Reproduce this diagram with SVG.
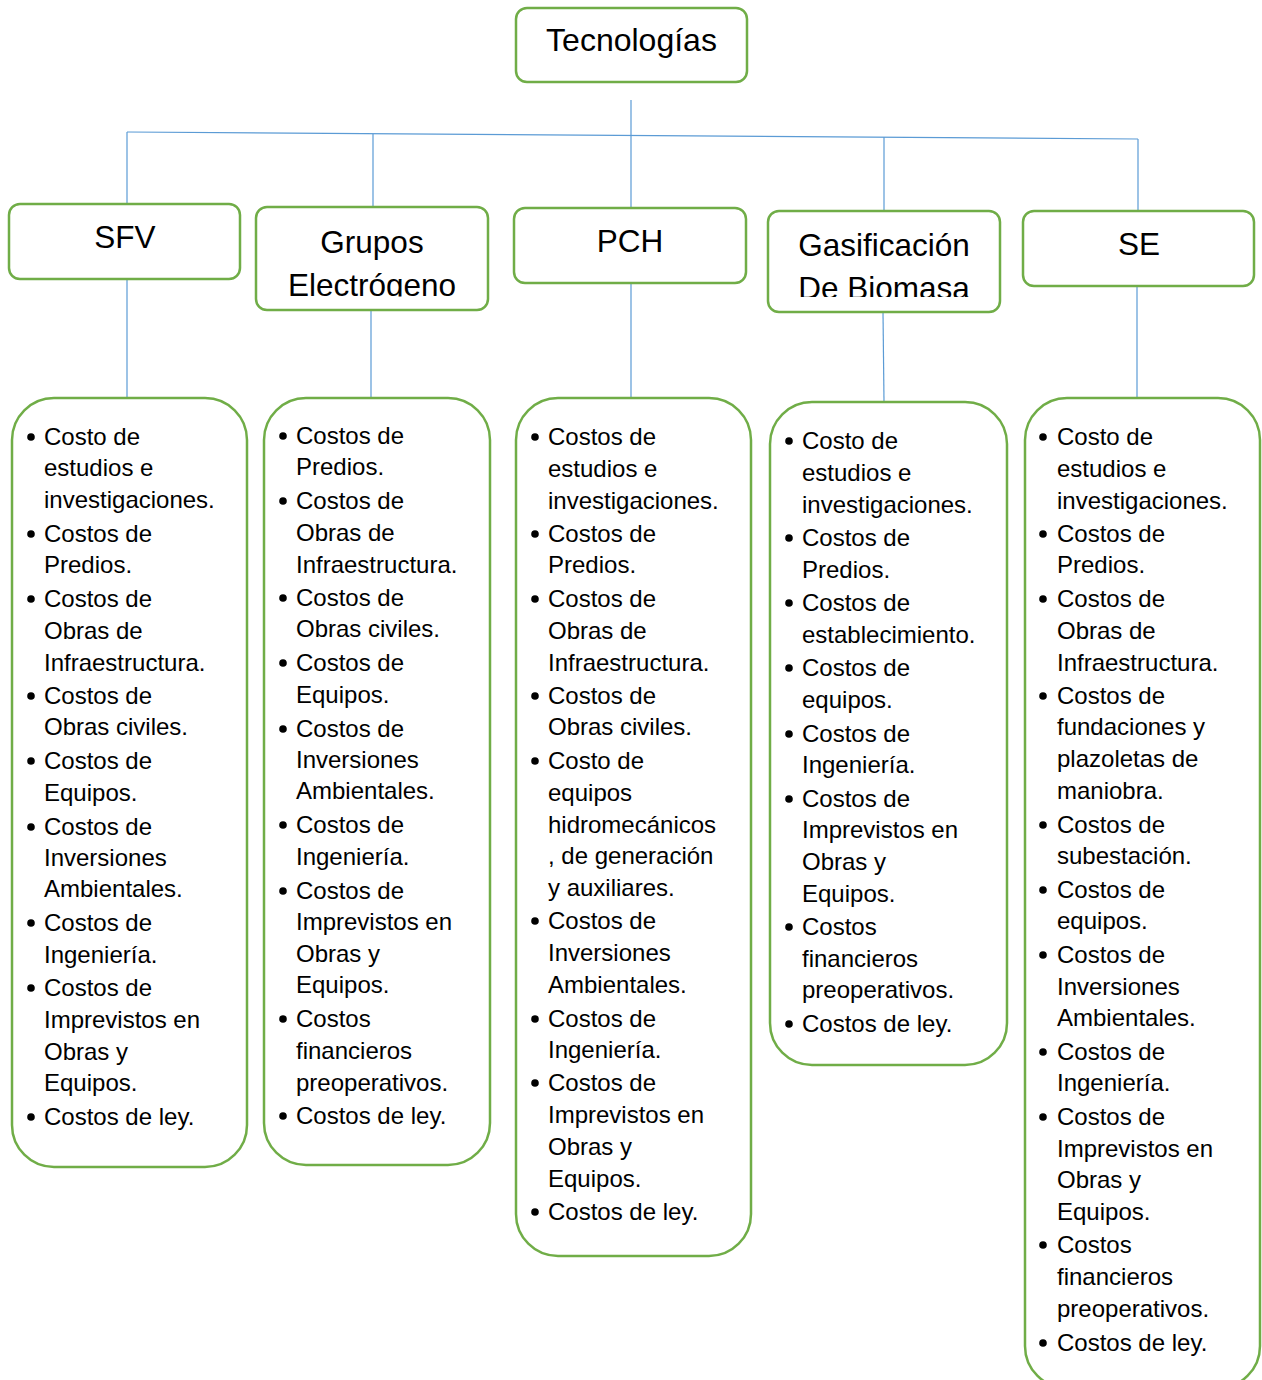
<svg xmlns="http://www.w3.org/2000/svg" width="1262" height="1380" viewBox="0 0 1262 1380">
<style>
.box{fill:#fff;stroke:#70AD47;stroke-width:2.5}
.hd{font-family:"Liberation Sans",Arial,sans-serif;font-size:31.5px;fill:#000;text-anchor:middle}
.li{font-family:"Liberation Sans",Arial,sans-serif;font-size:24px;fill:#000}
.bl{fill:#000}
.cn{stroke:#5B9BD5;stroke-width:1.2;fill:none}
</style>
<defs>
<clipPath id="cg"><rect x="256" y="207" width="233" height="89.5"/></clipPath>
<clipPath id="cb"><rect x="768" y="211" width="233" height="86"/></clipPath>
</defs>
<rect width="1262" height="1380" fill="#fff"/>
<g id="connectors">
<line class="cn" x1="631" y1="100" x2="631" y2="208"/>
<line class="cn" x1="127" y1="132" x2="1138" y2="139"/>
<line class="cn" x1="127" y1="132" x2="127" y2="204"/>
<line class="cn" x1="373" y1="134" x2="373" y2="207"/>
<line class="cn" x1="884" y1="137" x2="884" y2="211"/>
<line class="cn" x1="1138" y1="139" x2="1138" y2="212"/>
<line class="cn" x1="127" y1="279" x2="127" y2="398"/>
<line class="cn" x1="371" y1="310" x2="371" y2="398"/>
<line class="cn" x1="631" y1="283" x2="631" y2="398"/>
<line class="cn" x1="883" y1="312" x2="884" y2="402"/>
<line class="cn" x1="1137" y1="286" x2="1137" y2="398"/>
</g>
<g id="root">
<rect class="box" x="516" y="8" width="231" height="74" rx="11"/>
<text class="hd" x="631.5" y="51" style="font-size:32px">Tecnologías</text>
</g>
<g id="sfv">
<rect class="box" x="9" y="204" width="231" height="75" rx="11"/>
<text class="hd" x="125" y="248">SFV</text>
</g>
<g id="grupos">
<rect class="box" x="256" y="207" width="232" height="103" rx="11"/>
<g clip-path="url(#cg)">
<text class="hd" x="372" y="253">Grupos</text>
<text class="hd" x="372" y="295.5">Electrógeno</text>
</g>
</g>
<g id="pch">
<rect class="box" x="514" y="208" width="232" height="75" rx="11"/>
<text class="hd" x="630" y="252">PCH</text>
</g>
<g id="gasificacion">
<rect class="box" x="768" y="211" width="232" height="101" rx="11"/>
<g clip-path="url(#cb)">
<text class="hd" x="884" y="256">Gasificación</text>
<text class="hd" x="884" y="299">De Biomasa</text>
</g>
</g>
<g id="se">
<rect class="box" x="1023" y="211" width="231" height="75" rx="11"/>
<text class="hd" x="1139" y="255">SE</text>
</g>
<g id="list-sfv">
<rect class="box" x="12" y="398" width="235" height="769" rx="42"/>
<g class="bl">
<circle cx="31" cy="437" r="3.8"/><circle cx="31" cy="534" r="3.8"/><circle cx="31" cy="599" r="3.8"/><circle cx="31" cy="696" r="3.8"/><circle cx="31" cy="761" r="3.8"/><circle cx="31" cy="827" r="3.8"/><circle cx="31" cy="923" r="3.8"/><circle cx="31" cy="988" r="3.8"/><circle cx="31" cy="1117" r="3.8"/>
</g>
<text class="li">
<tspan x="44" y="445">Costo de</tspan><tspan x="44" y="476">estudios e</tspan><tspan x="44" y="508">investigaciones.</tspan>
<tspan x="44" y="542">Costos de</tspan><tspan x="44" y="573">Predios.</tspan>
<tspan x="44" y="607">Costos de</tspan><tspan x="44" y="639">Obras de</tspan><tspan x="44" y="671">Infraestructura.</tspan>
<tspan x="44" y="704">Costos de</tspan><tspan x="44" y="735">Obras civiles.</tspan>
<tspan x="44" y="769">Costos de</tspan><tspan x="44" y="801">Equipos.</tspan>
<tspan x="44" y="835">Costos de</tspan><tspan x="44" y="866">Inversiones</tspan><tspan x="44" y="897">Ambientales.</tspan>
<tspan x="44" y="931">Costos de</tspan><tspan x="44" y="963">Ingeniería.</tspan>
<tspan x="44" y="996">Costos de</tspan><tspan x="44" y="1028">Imprevistos en</tspan><tspan x="44" y="1060">Obras y</tspan><tspan x="44" y="1091">Equipos.</tspan>
<tspan x="44" y="1125">Costos de ley.</tspan>
</text>
</g>
<g id="list-grupos">
<rect class="box" x="264" y="398" width="226" height="767" rx="42"/>
<g class="bl">
<circle cx="283" cy="436" r="3.8"/><circle cx="283" cy="501" r="3.8"/><circle cx="283" cy="598" r="3.8"/><circle cx="283" cy="663" r="3.8"/><circle cx="283" cy="729" r="3.8"/><circle cx="283" cy="825" r="3.8"/><circle cx="283" cy="891" r="3.8"/><circle cx="283" cy="1019" r="3.8"/><circle cx="283" cy="1116" r="3.8"/>
</g>
<text class="li">
<tspan x="296" y="444">Costos de</tspan><tspan x="296" y="475">Predios.</tspan>
<tspan x="296" y="509">Costos de</tspan><tspan x="296" y="541">Obras de</tspan><tspan x="296" y="573">Infraestructura.</tspan>
<tspan x="296" y="606">Costos de</tspan><tspan x="296" y="637">Obras civiles.</tspan>
<tspan x="296" y="671">Costos de</tspan><tspan x="296" y="703">Equipos.</tspan>
<tspan x="296" y="737">Costos de</tspan><tspan x="296" y="768">Inversiones</tspan><tspan x="296" y="799">Ambientales.</tspan>
<tspan x="296" y="833">Costos de</tspan><tspan x="296" y="865">Ingeniería.</tspan>
<tspan x="296" y="899">Costos de</tspan><tspan x="296" y="930">Imprevistos en</tspan><tspan x="296" y="962">Obras y</tspan><tspan x="296" y="993">Equipos.</tspan>
<tspan x="296" y="1027">Costos</tspan><tspan x="296" y="1059">financieros</tspan><tspan x="296" y="1091">preoperativos.</tspan>
<tspan x="296" y="1124">Costos de ley.</tspan>
</text>
</g>
<g id="list-pch">
<rect class="box" x="516" y="398" width="235" height="858" rx="42"/>
<g class="bl">
<circle cx="535" cy="437" r="3.8"/><circle cx="535" cy="534" r="3.8"/><circle cx="535" cy="599" r="3.8"/><circle cx="535" cy="696" r="3.8"/><circle cx="535" cy="761" r="3.8"/><circle cx="535" cy="921" r="3.8"/><circle cx="535" cy="1019" r="3.8"/><circle cx="535" cy="1083" r="3.8"/><circle cx="535" cy="1212" r="3.8"/>
</g>
<text class="li">
<tspan x="548" y="445">Costos de</tspan><tspan x="548" y="477">estudios e</tspan><tspan x="548" y="509">investigaciones.</tspan>
<tspan x="548" y="542">Costos de</tspan><tspan x="548" y="573">Predios.</tspan>
<tspan x="548" y="607">Costos de</tspan><tspan x="548" y="639">Obras de</tspan><tspan x="548" y="671">Infraestructura.</tspan>
<tspan x="548" y="704">Costos de</tspan><tspan x="548" y="735">Obras civiles.</tspan>
<tspan x="548" y="769">Costo de</tspan><tspan x="548" y="801">equipos</tspan><tspan x="548" y="833">hidromecánicos</tspan><tspan x="548" y="864">, de generación</tspan><tspan x="548" y="896">y auxiliares.</tspan>
<tspan x="548" y="929">Costos de</tspan><tspan x="548" y="961">Inversiones</tspan><tspan x="548" y="993">Ambientales.</tspan>
<tspan x="548" y="1027">Costos de</tspan><tspan x="548" y="1058">Ingeniería.</tspan>
<tspan x="548" y="1091">Costos de</tspan><tspan x="548" y="1123">Imprevistos en</tspan><tspan x="548" y="1155">Obras y</tspan><tspan x="548" y="1187">Equipos.</tspan>
<tspan x="548" y="1220">Costos de ley.</tspan>
</text>
</g>
<g id="list-gasificacion">
<rect class="box" x="770" y="402" width="237" height="663" rx="42"/>
<g class="bl">
<circle cx="789" cy="441" r="3.8"/><circle cx="789" cy="538" r="3.8"/><circle cx="789" cy="603" r="3.8"/><circle cx="789" cy="668" r="3.8"/><circle cx="789" cy="734" r="3.8"/><circle cx="789" cy="799" r="3.8"/><circle cx="789" cy="927" r="3.8"/><circle cx="789" cy="1024" r="3.8"/>
</g>
<text class="li">
<tspan x="802" y="449">Costo de</tspan><tspan x="802" y="481">estudios e</tspan><tspan x="802" y="513">investigaciones.</tspan>
<tspan x="802" y="546">Costos de</tspan><tspan x="802" y="578">Predios.</tspan>
<tspan x="802" y="611">Costos de</tspan><tspan x="802" y="643">establecimiento.</tspan>
<tspan x="802" y="676">Costos de</tspan><tspan x="802" y="708">equipos.</tspan>
<tspan x="802" y="742">Costos de</tspan><tspan x="802" y="773">Ingeniería.</tspan>
<tspan x="802" y="807">Costos de</tspan><tspan x="802" y="838">Imprevistos en</tspan><tspan x="802" y="870">Obras y</tspan><tspan x="802" y="902">Equipos.</tspan>
<tspan x="802" y="935">Costos</tspan><tspan x="802" y="967">financieros</tspan><tspan x="802" y="998">preoperativos.</tspan>
<tspan x="802" y="1032">Costos de ley.</tspan>
</text>
</g>
<g id="list-se">
<rect class="box" x="1025" y="398" width="235" height="990" rx="42"/>
<g class="bl">
<circle cx="1043" cy="437" r="3.8"/><circle cx="1043" cy="534" r="3.8"/><circle cx="1043" cy="599" r="3.8"/><circle cx="1043" cy="696" r="3.8"/><circle cx="1043" cy="825" r="3.8"/><circle cx="1043" cy="890" r="3.8"/><circle cx="1043" cy="955" r="3.8"/><circle cx="1043" cy="1052" r="3.8"/><circle cx="1043" cy="1117" r="3.8"/><circle cx="1043" cy="1245" r="3.8"/><circle cx="1043" cy="1343" r="3.8"/>
</g>
<text class="li">
<tspan x="1057" y="445">Costo de</tspan><tspan x="1057" y="477">estudios e</tspan><tspan x="1057" y="509">investigaciones.</tspan>
<tspan x="1057" y="542">Costos de</tspan><tspan x="1057" y="573">Predios.</tspan>
<tspan x="1057" y="607">Costos de</tspan><tspan x="1057" y="639">Obras de</tspan><tspan x="1057" y="671">Infraestructura.</tspan>
<tspan x="1057" y="704">Costos de</tspan><tspan x="1057" y="735">fundaciones y</tspan><tspan x="1057" y="767">plazoletas de</tspan><tspan x="1057" y="799">maniobra.</tspan>
<tspan x="1057" y="833">Costos de</tspan><tspan x="1057" y="864">subestación.</tspan>
<tspan x="1057" y="898">Costos de</tspan><tspan x="1057" y="929">equipos.</tspan>
<tspan x="1057" y="963">Costos de</tspan><tspan x="1057" y="995">Inversiones</tspan><tspan x="1057" y="1026">Ambientales.</tspan>
<tspan x="1057" y="1060">Costos de</tspan><tspan x="1057" y="1091">Ingeniería.</tspan>
<tspan x="1057" y="1125">Costos de</tspan><tspan x="1057" y="1157">Imprevistos en</tspan><tspan x="1057" y="1188">Obras y</tspan><tspan x="1057" y="1220">Equipos.</tspan>
<tspan x="1057" y="1253">Costos</tspan><tspan x="1057" y="1285">financieros</tspan><tspan x="1057" y="1317">preoperativos.</tspan>
<tspan x="1057" y="1351">Costos de ley.</tspan>
</text>
</g>
</svg>
